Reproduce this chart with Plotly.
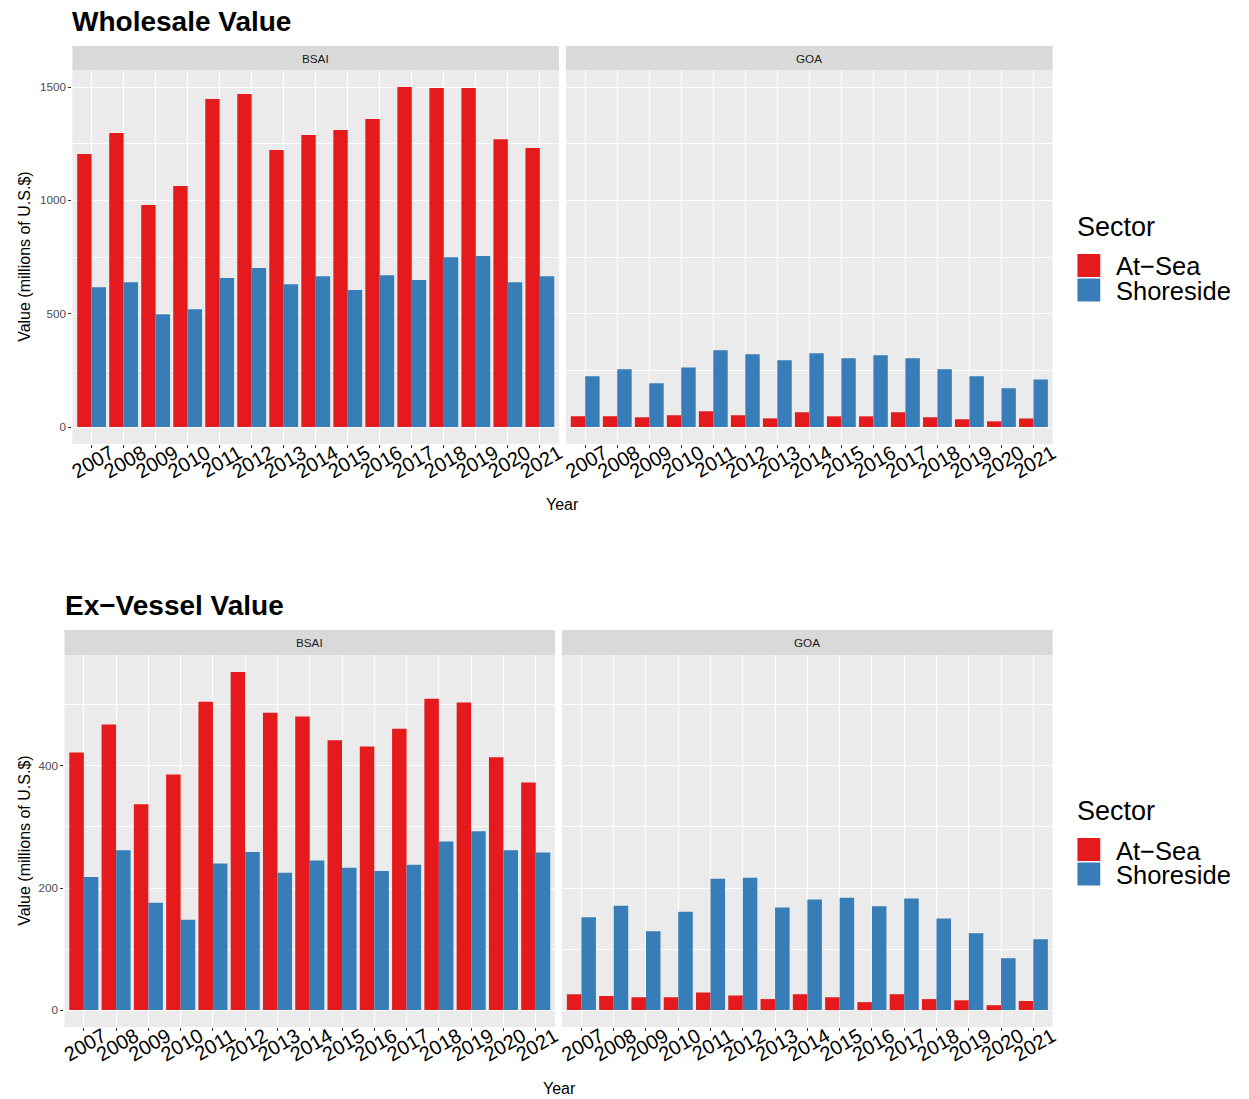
import plotly.graph_objects as go

# ---------------- data ----------------
years = list(range(2007, 2022))
year_labels = [str(y) for y in years]
sectors = ["At\u2212Sea", "Shoreside"]
sector_colors = ["#E41A1C", "#377EB8"]
regions = ["BSAI", "GOA"]

wholesale_bsai_atsea = [1204, 1297, 979, 1063, 1447, 1469, 1222, 1288, 1310, 1359, 1500, 1496, 1496, 1270, 1231]
wholesale_bsai_shoreside = [617, 639, 497, 520, 657, 701, 630, 665, 604, 670, 648, 749, 754, 639, 665]
wholesale_goa_atsea = [47, 47, 43, 52, 69, 52, 38, 65, 47, 47, 65, 43, 34, 25, 38]
wholesale_goa_shoreside = [224, 255, 193, 263, 339, 321, 294, 325, 303, 316, 303, 255, 224, 171, 210]

exvessel_bsai_atsea = [422, 468, 337, 386, 505, 554, 487, 481, 442, 432, 461, 510, 504, 414, 373]
exvessel_bsai_shoreside = [218, 262, 176, 148, 240, 259, 225, 245, 233, 228, 238, 276, 293, 262, 258]
exvessel_goa_atsea = [26, 23, 21, 21, 29, 24, 18, 26, 21, 13, 26, 18, 16, 8, 15]
exvessel_goa_shoreside = [152, 171, 129, 161, 215, 217, 168, 181, 184, 170, 183, 150, 126, 85, 116]

titles = ["Wholesale Value", "Ex\u2212Vessel Value"]
y_title = "Value (millions of U.S.$)"
x_title = "Year"
legend_title = "Sector"
wholesale_ticks = [0, 500, 1000, 1500]
exvessel_ticks = [0, 200, 400]

# ---------------- layout helpers ----------------
W, H = 1249, 1099
FONT = "Liberation Sans, Arial, Helvetica, sans-serif"


def px(x):
    return x / W


def py(y):
    return 1 - y / H


fig = go.Figure()

panel_data = [
    ("x", "y", wholesale_bsai_atsea, wholesale_bsai_shoreside),
    ("x2", "y2", wholesale_goa_atsea, wholesale_goa_shoreside),
    ("x3", "y3", exvessel_bsai_atsea, exvessel_bsai_shoreside),
    ("x4", "y4", exvessel_goa_atsea, exvessel_goa_shoreside),
]
for xa, ya, atsea, shore in panel_data:
    for name, vals, col in zip(sectors, [atsea, shore], sector_colors):
        fig.add_trace(go.Bar(
            x=years, y=vals, name=name, marker=dict(color=col, line=dict(width=0)),
            xaxis=xa, yaxis=ya, offsetgroup=name, showlegend=False,
            hovertemplate="%{x}: %{y}<extra>" + name + "</extra>",
        ))

# panel geometry in pixels: (x0, x1, y0, y1, strip_top)
geom = {
    1: (69, 560, 70, 444, 46),
    2: (567, 1058, 70, 444, 46),
    3: (61, 556, 655, 1027, 630),
    4: (563, 1058, 655, 1027, 630),
}

top_max = max(wholesale_bsai_atsea + wholesale_bsai_shoreside + wholesale_goa_atsea + wholesale_goa_shoreside)
bot_max = max(exvessel_bsai_atsea + exvessel_bsai_shoreside + exvessel_goa_atsea + exvessel_goa_shoreside)
top_range = [-0.05 * top_max, 1.05 * top_max]
bot_range = [-0.05 * bot_max, 1.05 * bot_max]

layout = dict(
    width=W, height=H,
    margin=dict(l=0, r=0, t=0, b=0),
    paper_bgcolor="white", plot_bgcolor="#EBEBEB",
    barmode="group", bargap=0.1, bargroupgap=0,
    font=dict(family=FONT, color="#000000"),
    showlegend=False,
)

shapes = []
annotations = []

for i in range(1, 5):
    x0, x1, y0, y1, st = geom[i]
    sfx = "" if i == 1 else str(i)
    layout["xaxis" + sfx] = dict(
        domain=[px(x0), px(x1)], anchor="y" + sfx,
        range=[years[0] - 0.6, years[-1] + 0.6],
        tickmode="array", tickvals=years, ticktext=year_labels,
        tickangle=-30, tickfont=dict(size=20, color="#000000", family=FONT),
        ticks="outside", ticklen=3, tickwidth=1, tickcolor="#333333",
        ticklabelshift=19, ticklabelstandoff=-14,
        showgrid=True, gridcolor="#FFFFFF", gridwidth=1.2,
        zeroline=False, showline=False, fixedrange=True,
    )
    is_top = i <= 2
    rng = top_range if is_top else bot_range
    tv = wholesale_ticks if is_top else exvessel_ticks
    minor_dt = 250 if is_top else 100
    left = i in (1, 3)
    layout["yaxis" + sfx] = dict(
        domain=[py(y1), py(y0)], anchor="x" + sfx,
        range=rng, tickmode="array", tickvals=tv,
        showticklabels=left,
        ticks="outside" if left else "", ticklen=3, tickwidth=1, tickcolor="#333333",
        tickfont=dict(size=11.7, color="#4D4D4D", family=FONT),
        showgrid=True, gridcolor="#FFFFFF", gridwidth=1.2,
        minor=dict(tickmode="linear", tick0=0, dtick=minor_dt, showgrid=True,
                   gridcolor="#FFFFFF", gridwidth=0.55, ticks=""),
        zeroline=False, showline=False, fixedrange=True,
    )
    # strip
    shapes.append(dict(type="rect", xref="paper", yref="paper",
                       x0=px(x0), x1=px(x1), y0=py(y0), y1=py(st),
                       fillcolor="#D9D9D9", line=dict(width=0), layer="below"))
    annotations.append(dict(text=regions[(i - 1) % 2], xref="paper", yref="paper",
                            x=px((x0 + x1) / 2), y=py((st + y0) / 2),
                            xanchor="center", yanchor="middle", showarrow=False,
                            font=dict(size=11.7, color="#1A1A1A", family=FONT)))

# titles
annotations.append(dict(text="<b>" + titles[0] + "</b>", xref="paper", yref="paper",
                        x=px(67), y=py(22), xanchor="left", yanchor="middle", showarrow=False,
                        font=dict(size=28, color="#000000", family=FONT)))
annotations.append(dict(text="<b>" + titles[1] + "</b>", xref="paper", yref="paper",
                        x=px(60), y=py(605), xanchor="left", yanchor="middle", showarrow=False,
                        font=dict(size=28, color="#000000", family=FONT)))

# axis titles
for yc in (257, 841):
    annotations.append(dict(text=y_title, xref="paper", yref="paper", x=px(20), y=py(yc),
                            xanchor="center", yanchor="middle", textangle=-90, showarrow=False,
                            font=dict(size=16, color="#000000", family=FONT)))
for xc, yc in ((563, 505), (560, 1088)):
    annotations.append(dict(text=x_title, xref="paper", yref="paper", x=px(xc), y=py(yc),
                            xanchor="center", yanchor="middle", showarrow=False,
                            font=dict(size=16, color="#000000", family=FONT)))

# legends (one per figure)
for off in (0, 584):
    annotations.append(dict(text=legend_title, xref="paper", yref="paper", x=px(1081), y=py(227 + off),
                            xanchor="left", yanchor="middle", showarrow=False,
                            font=dict(size=27, color="#000000", family=FONT)))
    for k, (name, col) in enumerate(zip(sectors, sector_colors)):
        ky0 = 254 + off + k * 24.5
        shapes.append(dict(type="rect", xref="paper", yref="paper",
                           x0=px(1083), x1=px(1106), y0=py(ky0 + 23), y1=py(ky0),
                           fillcolor=col, line=dict(width=0)))
        annotations.append(dict(text=name, xref="paper", yref="paper", x=px(1120), y=py(ky0 + 12),
                                xanchor="left", yanchor="middle", showarrow=False, height=23,
                                font=dict(size=25.5, color="#000000", family=FONT)))

layout["shapes"] = shapes
layout["annotations"] = annotations
fig.update_layout(**layout)

fig.write_html(
    "out.html",
    config={"displayModeBar": False},
    post_script="document.body.style.margin='0px';document.body.style.overflow='hidden';",
)
